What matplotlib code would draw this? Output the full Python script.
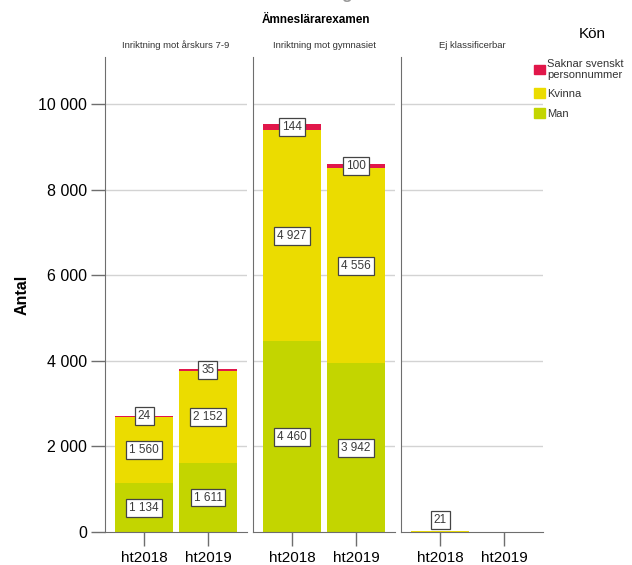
import matplotlib
matplotlib.use("Agg")
import matplotlib.pyplot as plt
from matplotlib.patches import Patch
from matplotlib.ticker import FuncFormatter
import numpy as np

plt.rcParams['font.family'] = ['Liberation Sans', 'DejaVu Sans']

# data
panels = ['Inriktning mot årskurs 7-9', 'Inriktning mot gymnasiet', 'Ej klassificerbar']
terms = ['ht2018', 'ht2019']
man = [[1134, 1611], [4460, 3942], [0, 0]]
kvinna = [[1560, 2152], [4927, 4556], [21, 0]]
saknar = [[24, 35], [144, 100], [0, 0]]
series_names = ['Saknar svenskt\npersonnummer', 'Kvinna', 'Man']
colors = {'Man': '#c3d500', 'Kvinna': '#ebdc00', 'Saknar': '#e1174a'}
yticks = [0, 2000, 4000, 6000, 8000, 10000]

fig = plt.figure(figsize=(6.32, 5.65), dpi=100)

lefts = [105/632, 253/632, 401/632]
bottom = 1 - 532/565
height = (532 - 57)/565
width = 142/632
axis_col = '#6e6e6e'

def fmt(v, pos=None):
  return f"{v:,.0f}".replace(',', ' ')

def label(ax, x, y, v):
  ax.text(x, max(y, 280), fmt(v), ha='center', va='center', fontsize=8.5, color='#3a3a3a',
          bbox=dict(boxstyle='square,pad=0.25', fc='white', ec='#444444', lw=0.9), zorder=5)

for p, name in enumerate(panels):
  ax = fig.add_axes([lefts[p], bottom, width, height])
  x = np.arange(len(terms))
  m = np.array(man[p]); k = np.array(kvinna[p]); s = np.array(saknar[p])
  ax.bar(x, m, width=0.9, color=colors['Man'], zorder=2)
  ax.bar(x, k, width=0.9, bottom=m, color=colors['Kvinna'], zorder=2)
  ax.bar(x, s, width=0.9, bottom=m + k, color=colors['Saknar'], zorder=2)
  for i in range(len(terms)):
    if m[i] > 0: label(ax, x[i], m[i]/2, m[i])
    if k[i] > 0: label(ax, x[i], m[i] + k[i]/2, k[i])
    if s[i] > 0: label(ax, x[i], m[i] + k[i] + s[i]/2, s[i])

  ax.set_xlim(-0.61, 1.61)
  ax.set_ylim(0, 11100)
  ax.set_yticks(yticks)
  for t in yticks[1:]:
    ax.axhline(t, color='#d3d3d3', lw=1, zorder=1)
  ax.set_xticks(x)
  ax.set_xticklabels(terms, fontsize=11)
  ax.tick_params(axis='x', length=10, width=1, color=axis_col, pad=4)
  for sp in ['top', 'right']:
    ax.spines[sp].set_visible(False)
  for sp in ['left', 'bottom']:
    ax.spines[sp].set_color(axis_col)
  if p == 0:
    ax.yaxis.set_major_formatter(FuncFormatter(fmt))
    ax.tick_params(axis='y', length=10, width=1, color=axis_col, labelsize=11.5, pad=3)
    ax.set_ylabel('Antal', fontsize=11.5, fontweight='bold', labelpad=6)
  else:
    ax.tick_params(axis='y', left=False, labelleft=False)
  fig.text(lefts[p] + width/2, 1 - 45/565, name, ha='center', va='center', fontsize=6.8, color='#333333')

fig.text(0.5, 1 - 20/565, 'Ämneslärarexamen', ha='center', va='center', fontsize=8.5, fontweight='bold')
fig.text(0.5, 1.002, 'Inriktning', ha='center', va='baseline', fontsize=12, fontweight='bold', color='#999999')

fig.text(592/632, 1 - 34/565, 'Kön', ha='center', va='center', fontsize=11)
handles = [Patch(color=colors['Saknar']), Patch(color=colors['Kvinna']), Patch(color=colors['Man'])]
leg = fig.legend(handles, series_names, loc='upper left', bbox_to_anchor=(533/632, 1 - 58/565),
                 frameon=False, fontsize=8, handlelength=1.0, handleheight=1.0,
                 handletextpad=0.15, labelspacing=0.8, borderpad=0.1, borderaxespad=0)
for t in leg.get_texts():
  t.set_color('#333333')
  t.set_linespacing(1.05)

fig.savefig('out.png', dpi=100)
